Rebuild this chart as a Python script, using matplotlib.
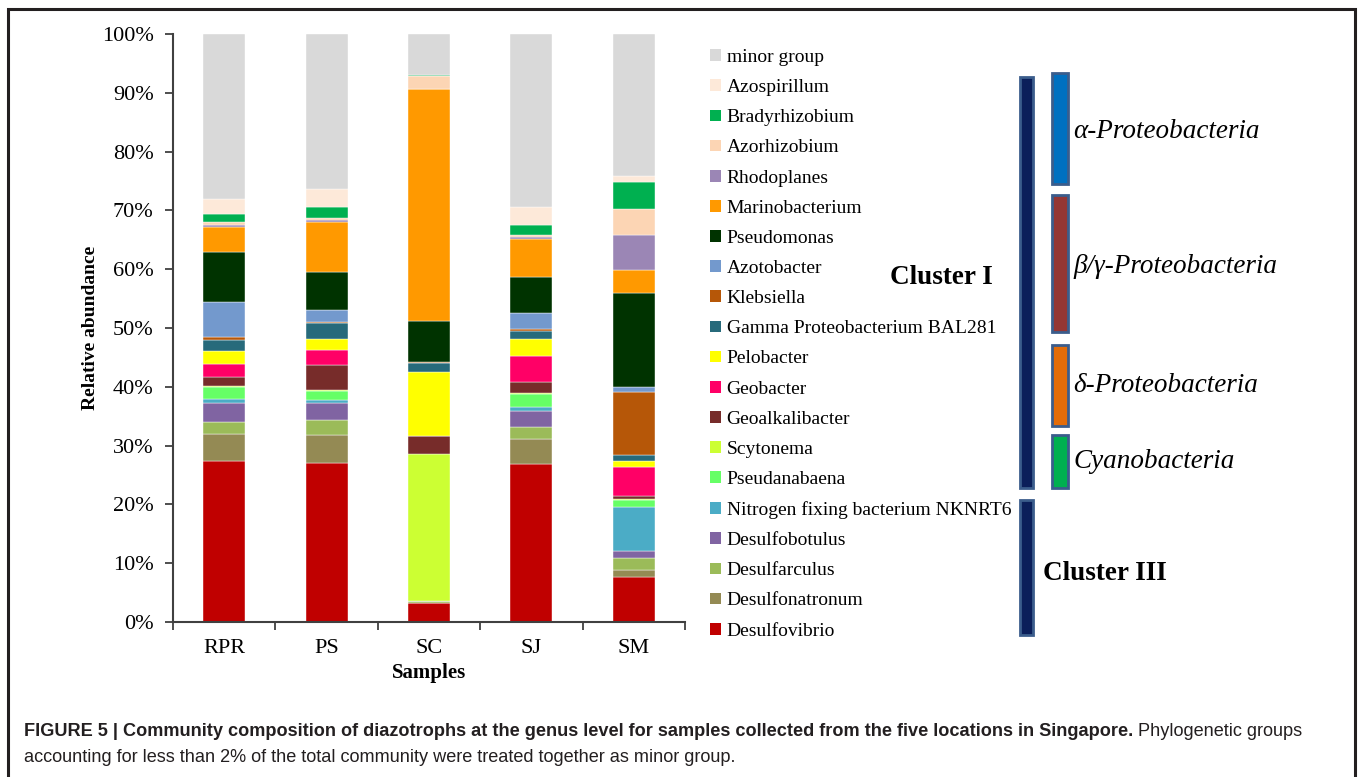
import numpy as np
import matplotlib
matplotlib.use("Agg")
import matplotlib.pyplot as plt
from matplotlib.patches import Rectangle
from matplotlib import font_manager

W, H = 1358, 777

samples = ["RPR", "PS", "SC", "SJ", "SM"]

# stack order, bottom -> top
genera = ["Desulfovibrio", "Desulfonatronum", "Desulfarculus", "Desulfobotulus",
          "Nitrogen fixing bacterium NKNRT6", "Pseudanabaena", "Scytonema",
          "Geoalkalibacter", "Geobacter", "Pelobacter", "Gamma Proteobacterium BAL281",
          "Klebsiella", "Azotobacter", "Pseudomonas", "Marinobacterium", "Rhodoplanes",
          "Azorhizobium", "Bradyrhizobium", "Azospirillum", "minor group"]

colors = ["#c00000", "#948a54", "#9bbb59", "#8064a2", "#4bacc6", "#66ff66", "#ccff33",
          "#772c2a", "#ff0066", "#ffff00", "#276a7b", "#b65708", "#7399cd", "#003300",
          "#ff9900", "#9b86b5", "#fcd5b4", "#00b050", "#fde9d9", "#d9d9d9"]

# relative abundance (%) per sample, same order as genera
rpr = [27.4, 4.6, 2.0, 3.2, 0.7, 2.0, 0.2, 1.6, 2.1, 2.3, 1.9, 0.4, 6.1, 8.4, 4.2, 0.4, 0.5, 1.4, 2.5, 28.1]
ps = [27.0, 4.8, 2.6, 2.8, 0.6, 1.5, 0.2, 4.2, 2.6, 1.8, 2.7, 0.3, 1.9, 6.6, 8.5, 0.3, 0.3, 1.9, 3.1, 26.3]
sc = [3.2, 0.1, 0.2, 0.0, 0.0, 0.0, 25.0, 3.1, 0.0, 11.0, 1.5, 0.1, 0.0, 7.0, 39.4, 0.0, 2.2, 0.3, 0.0, 6.9]
sj = [26.9, 4.2, 2.0, 2.7, 0.8, 2.2, 0.2, 1.9, 4.4, 2.9, 1.3, 0.3, 2.7, 6.2, 6.4, 0.4, 0.3, 1.7, 3.1, 29.4]
sm = [7.7, 1.1, 2.1, 1.1, 7.6, 1.1, 0.2, 0.6, 4.8, 1.1, 1.0, 10.8, 0.8, 16.0, 3.8, 6.1, 4.3, 4.6, 1.1, 24.1]

y_ticks = np.arange(0, 101, 10)
y_labels = [f"{v}%" for v in y_ticks]

group_labels = ["α-Proteobacteria", "β/γ-Proteobacteria", "δ-Proteobacteria", "Cyanobacteria"]

caption_bold = ("FIGURE 5 | Community composition of diazotrophs at the genus level for samples "
                "collected from the five locations in Singapore.")
caption_rest1 = " Phylogenetic groups"
caption_line2 = "accounting for less than 2% of the total community were treated together as minor group."

serif = "Liberation Serif"
names = {f.name for f in font_manager.fontManager.ttflist}
cap_font = "Liberation Sans Narrow" if "Liberation Sans Narrow" in names else "Liberation Sans"


def fx(x):
    return x / W


def fy(y):
    return 1 - y / H


fig = plt.figure(figsize=(W / 100, H / 100), dpi=100)
ax = fig.add_axes([fx(173), fy(622), (685 - 173) / W, (622 - 34) / H])

values = np.array([rpr, ps, sc, sj, sm]).T
x = np.arange(len(samples))
bottom = np.zeros(len(samples))
handles = []
for name, col, vals in zip(genera, colors, values):
    b = ax.bar(x, vals, 0.41, bottom=bottom, color=col, label=name,
               edgecolor="white", linewidth=0.3)
    handles.append(b)
    bottom += vals

ax.set_xlim(-0.5, 4.5)
ax.set_ylim(0, 100)
ax.set_yticks(y_ticks)
ax.set_yticklabels(y_labels, fontfamily=serif, fontsize=16)
ax.set_xticks(np.arange(-0.5, 5, 1))
ax.set_xticklabels([])
ax.set_xticks(x, minor=True)
ax.set_xticklabels(samples, minor=True, fontfamily=serif, fontsize=16)
ax.tick_params(axis="x", which="minor", length=0, pad=12)
ax.tick_params(axis="x", which="major", length=6, width=1.3, color="#404040")
ax.tick_params(axis="y", length=6, width=1.3, color="#404040", pad=8)
for s in ["top", "right"]:
    ax.spines[s].set_visible(False)
for s in ["left", "bottom"]:
    ax.spines[s].set_color("#404040")
    ax.spines[s].set_linewidth(1.5)
ax.set_ylabel("Relative abundance", fontfamily=serif, fontsize=14, fontweight="bold", labelpad=2)
ax.set_xlabel("Samples", fontfamily=serif, fontsize=15, fontweight="bold", labelpad=4)

leg = fig.legend(handles[::-1], genera[::-1], loc="upper left",
                 bbox_to_anchor=(fx(710), fy(49)), frameon=False,
                 prop={"family": serif, "size": 14},
                 handlelength=0.55, handleheight=0.55, handletextpad=0.3,
                 labelspacing=0.676, borderaxespad=0, borderpad=0)
for h in leg.legend_handles:
    h.set_linewidth(0)

# right side cluster / group bars
edge = "#3b5d8c"
bars = [(1020, 77, 1033, 488, "#0b1f5a"), (1020, 500, 1033, 635, "#0b1f5a"),
        (1052, 73, 1068, 184, "#0070c0"), (1052, 195, 1068, 332, "#943634"),
        (1052, 345, 1068, 426, "#e36c09"), (1052, 435, 1068, 488, "#00b050")]
for x0, y0, x1, y1, c in bars:
    fig.patches.append(Rectangle((fx(x0), fy(y1)), (x1 - x0) / W, (y1 - y0) / H,
                                 transform=fig.transFigure, facecolor=c,
                                 edgecolor=edge, linewidth=2))

for lab, yc in zip(group_labels, [131, 266, 385, 461]):
    fig.text(fx(1073), fy(yc), lab, fontfamily=serif, fontstyle="italic",
             fontsize=19.5, va="center", ha="left")
fig.text(fx(941), fy(278), "Cluster I", fontfamily=serif, fontweight="bold",
         fontsize=19.5, va="center", ha="center")
fig.text(fx(1105), fy(573), "Cluster III", fontfamily=serif, fontweight="bold",
         fontsize=19.5, va="center", ha="center")

# caption, font size fitted so line 2 spans the same width as the reference
t2 = fig.text(fx(24), fy(757), caption_line2, fontfamily=cap_font, fontsize=12,
              color="#231f20", va="center", ha="left")
fig.canvas.draw()
r = fig.canvas.get_renderer()
w2 = t2.get_window_extent(r).width
cs = 12 * 717 / w2
t2.set_fontsize(cs)
t1 = fig.text(fx(24), fy(732), caption_bold, fontfamily=cap_font, fontsize=cs,
              fontweight="bold", color="#231f20", va="center", ha="left")
fig.canvas.draw()
x_end = t1.get_window_extent(r).x1
fig.text(x_end / W, fy(732), caption_rest1, fontfamily=cap_font, fontsize=cs,
         color="#231f20", va="center", ha="left")

# outer frame
fig.patches.append(Rectangle((fx(8), -0.05), (1355 - 8) / W, fy(9) + 0.05,
                             transform=fig.transFigure, fill=False,
                             edgecolor="#231f20", linewidth=2.2, clip_on=False))

fig.savefig("out.png", dpi=100)
